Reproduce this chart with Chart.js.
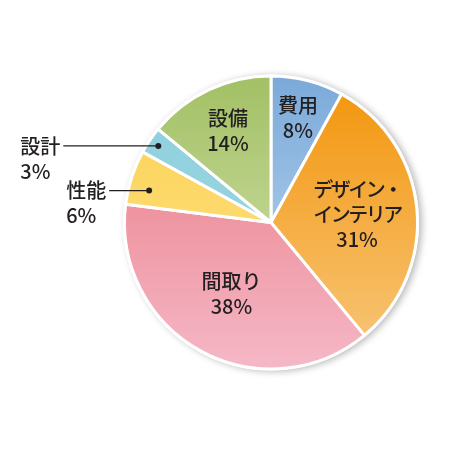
<!DOCTYPE html>
<html>
<head>
<meta charset="utf-8">
<script src="https://cdn.jsdelivr.net/npm/chart.js@4.4.1/dist/chart.umd.min.js"></script>
<style>
html, body { margin: 0; padding: 0; background: #fff; }
#wrap { width: 450px; height: 450px; }
</style>
</head>
<body>
<div id="wrap"><canvas id="pieChart"></canvas></div>
<script>
// data
var categories = ['費用', 'デザイン・インテリア', '間取り', '性能', '設計', '設備'];
var shares = [8, 31, 38, 6, 3, 14];
var labelLines = [['費用'], ['デザイン・', 'インテリア'], ['間取り'], ['性能'], ['設計'], ['設備']];

// style: gradient stops (top -> bottom of the pie)
var sliceColors = [
    ['#7aa9d9', '#c6def2'],
    ['#f29409', '#f8c87e'],
    ['#ea7680', '#f5b8c7'],
    ['#fcd04f', '#fde48c'],
    ['#8ccedc', '#a4dae4'],
    ['#a2c064', '#dae6b8']
];
// where the label sits: inside (fraction of radius) or outside with a leader line
var labelPlace = [
    {inside: 0.74},
    {inside: 0.59},
    {inside: 0.56},
    {dot: 0.86, line: 40, tilt: -3.3},
    {dot: 0.93, line: 95},
    {inside: 0.69}
];

var FONT = '500 20px "Noto Sans CJK JP", "Noto Sans", sans-serif';
var TEXT_COLOR = '#231f20';
var LINE_GAP = 25;

var gradientFor = function(chart, idx){
    var area = chart.chartArea;
    if(!area) return sliceColors[idx][0];
    var g = chart.ctx.createLinearGradient(0, area.top, 0, area.bottom);
    g.addColorStop(0, sliceColors[idx][0]);
    g.addColorStop(1, sliceColors[idx][1]);
    return g;
}

// katakana lines are set tighter, like proportional kana
var spacingFor = function(text){
    return /[\u30A0-\u30FF]/.test(text) ? '-2.5px' : '0px';
}

var shadowPlugin = {
    id: 'pieShadow',
    beforeDatasetsDraw: function(chart){
        var arc = chart.getDatasetMeta(0).data[0];
        if(!arc) return;
        var ctx = chart.ctx;
        ctx.save();
        ctx.shadowColor = 'rgba(0,0,0,0.28)';
        ctx.shadowBlur = 7;
        ctx.shadowOffsetX = 3;
        ctx.shadowOffsetY = 1;
        ctx.fillStyle = '#fff';
        ctx.beginPath();
        ctx.arc(arc.x, arc.y, arc.outerRadius + 1.5, 0, Math.PI * 2);
        ctx.fill();
        ctx.restore();
    }
}

var labelPlugin = {
    id: 'sliceLabels',
    afterDatasetsDraw: function(chart){
        var ctx = chart.ctx;
        var arcs = chart.getDatasetMeta(0).data;
        ctx.save();
        ctx.font = FONT;
        ctx.fillStyle = TEXT_COLOR;
        ctx.strokeStyle = TEXT_COLOR;
        ctx.textBaseline = 'middle';
        arcs.forEach(function(arc, i){
            var place = labelPlace[i];
            var mid = (arc.startAngle + arc.endAngle) / 2 + (place.tilt || 0) * Math.PI / 180;
            var lines = labelLines[i].concat([shares[i] + '%']);
            if(place.inside){
                var cx = arc.x + Math.cos(mid) * arc.outerRadius * place.inside;
                var cy = arc.y + Math.sin(mid) * arc.outerRadius * place.inside;
                var top = cy - (lines.length - 1) * LINE_GAP / 2;
                ctx.textAlign = 'center';
                lines.forEach(function(t, k){
                    ctx.letterSpacing = spacingFor(t);
                    ctx.fillText(t, cx, top + k * LINE_GAP);
                });
                ctx.letterSpacing = '0px';
            }
            else{
                var dx = arc.x + Math.cos(mid) * arc.outerRadius * place.dot;
                var dy = arc.y + Math.sin(mid) * arc.outerRadius * place.dot;
                var lx = dx - place.line;
                ctx.beginPath();
                ctx.arc(dx, dy, 3, 0, Math.PI * 2);
                ctx.fill();
                ctx.lineWidth = 1.3;
                ctx.beginPath();
                ctx.moveTo(dx, dy);
                ctx.lineTo(lx, dy);
                ctx.stroke();
                var w = ctx.measureText(lines[0]).width;
                var tx = lx - 3 - w;
                ctx.textAlign = 'left';
                lines.forEach(function(t, k){
                    ctx.fillText(t, tx, dy + k * LINE_GAP);
                });
            }
        });
        ctx.restore();
    }
}

new Chart(document.getElementById('pieChart'), {
    type: 'pie',
    data: {
        labels: categories,
        datasets: [{
            data: shares,
            backgroundColor: function(c){ return gradientFor(c.chart, c.dataIndex); },
            borderColor: '#ffffff',
            borderWidth: 3
        }]
    },
    options: {
        responsive: true,
        maintainAspectRatio: false,
        animation: false,
        layout: { padding: { left: 123, right: 31, top: 74, bottom: 79 } },
        plugins: {
            legend: { display: false },
            tooltip: { enabled: false }
        }
    },
    plugins: [shadowPlugin, labelPlugin]
});
</script>
</body>
</html>
